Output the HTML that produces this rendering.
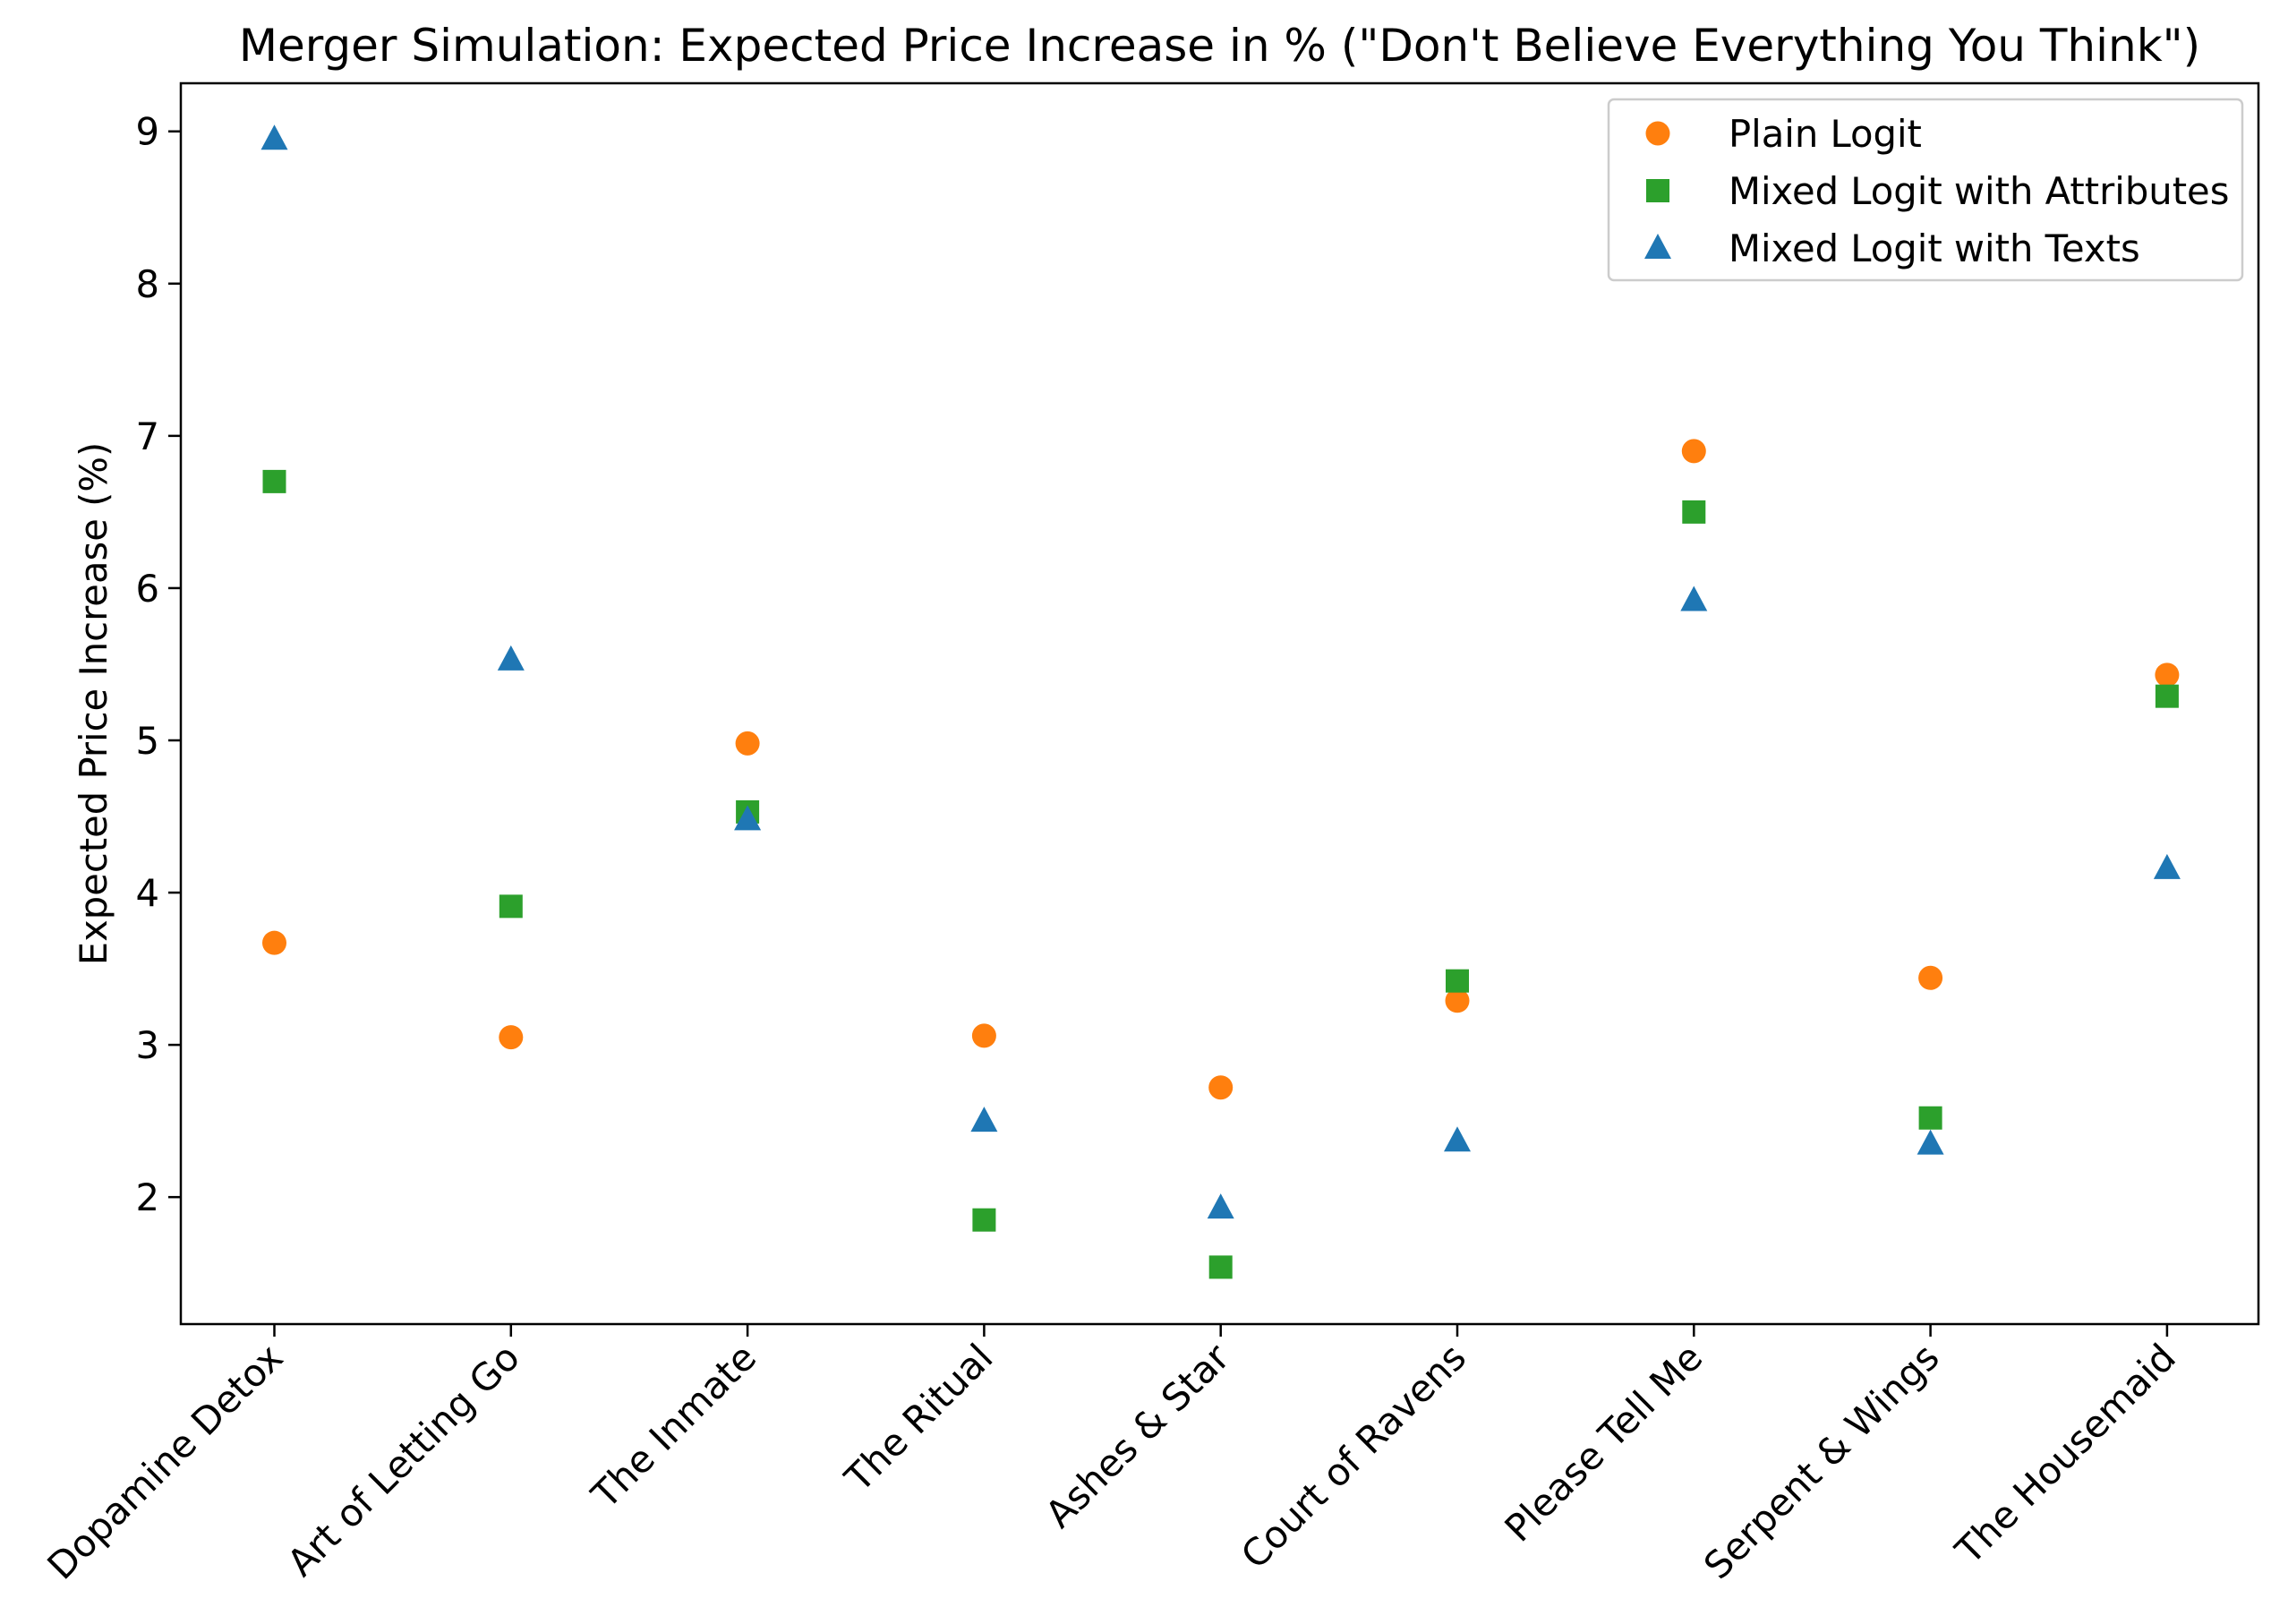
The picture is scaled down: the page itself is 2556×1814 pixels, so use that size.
<!DOCTYPE html>
<html><head><meta charset="utf-8"><style>body{margin:0;background:#fff}svg{display:block;font-family:"DejaVu Sans","Liberation Sans",sans-serif}</style></head>
<body>
<svg id="chart" width="2556" height="1814" viewBox="0 0 2556 1814"></svg>
<script>
const categories=["Dopamine Detox","Art of Letting Go","The Inmate","The Ritual","Ashes & Star","Court of Ravens","Please Tell Me","Serpent & Wings","The Housemaid"];
const plainLogit=[3.67,3.05,4.98,3.06,2.72,3.29,6.90,3.44,5.43];
const mixedAttr=[6.70,3.91,4.53,1.85,1.54,3.42,6.50,2.52,5.29];
const mixedTexts=[8.95,5.53,4.48,2.50,1.93,2.37,5.92,2.35,4.16];
const yTicks=[2,3,4,5,6,7,8,9];
const NS="http://www.w3.org/2000/svg",svg=document.getElementById('chart');
const L=202,R=2523,T=93,B=1479,yMin=1.166,yMax=9.316;
const xS=i=>306.5+i*264.3;
const yS=v=>B-(v-yMin)/(yMax-yMin)*(B-T);
function el(t,a,txt){const e=document.createElementNS(NS,t);for(const k in a)e.setAttribute(k,a[k]);if(txt!=null)e.textContent=txt;svg.appendChild(e);return e;}
let e;
e=el('text',{x:(L+R)/2,y:68,'text-anchor':'middle','font-size':'50'},'Merger Simulation: Expected Price Increase in % ("Don\'t Believe Everything You Think")');

yTicks.forEach(v=>{const y=yS(v);
 e=el('line',{x1:L-14,x2:L,y1:y,y2:y,stroke:'#000','stroke-width':2.5});
 
 e=el('text',{x:L-24,y:y+15,'text-anchor':'end','font-size':'41.7'},String(v));
 });
categories.forEach((c,i)=>{const x=xS(i);
 e=el('line',{x1:x,x2:x,y1:B,y2:B+14,stroke:'#000','stroke-width':2.5});
 
 e=el('text',{x:x+12,y:B+40,'text-anchor':'end','font-size':'41.7',transform:`rotate(-45 ${x+12} ${B+40})`},c);
 });
e=el('text',{x:119,y:(T+B)/2,'text-anchor':'middle','font-size':'41.7',transform:`rotate(-90 119 ${(T+B)/2})`},'Expected Price Increase (%)');

function circ(x,y,n){e=el('circle',{cx:x,cy:y,r:13.5,fill:'#ff7f0e'});}
function sq(x,y,n){e=el('rect',{x:x-13,y:y-13,width:26,height:26,fill:'#2ca02c'});}
function tri(x,y,n){e=el('polygon',{points:`${x},${y-16} ${x-15},${y+12} ${x+15},${y+12}`,fill:'#1f77b4'});}
plainLogit.forEach((v,i)=>circ(xS(i),yS(v),'plain-logit-point'));
mixedAttr.forEach((v,i)=>sq(xS(i),yS(v),'mixed-attributes-point'));
mixedTexts.forEach((v,i)=>tri(xS(i),yS(v),'mixed-texts-point'));
e=el('rect',{x:L,y:T,width:R-L,height:B-T,fill:'none',stroke:'#000','stroke-width':2.5});

e=el('rect',{x:1797,y:111,width:708,height:202,rx:6,fill:'#fff',stroke:'#ccc','stroke-width':2.5});

const leg=[['Plain Logit',circ],['Mixed Logit with Attributes',sq],['Mixed Logit with Texts',tri]];
leg.forEach((l,k)=>{const y=149+k*64;l[1](1852,y,'legend-marker');
 e=el('text',{x:1931,y:y+15,'font-size':'41.7'},l[0]);});
</script>
</body></html>
